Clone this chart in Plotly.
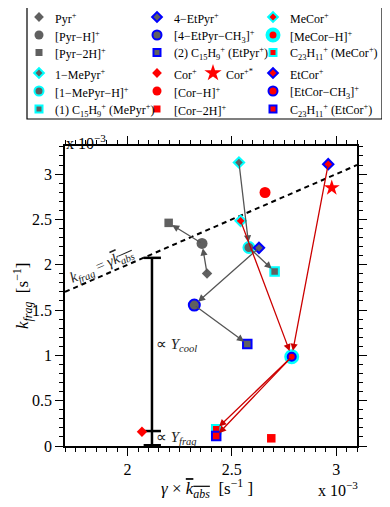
import plotly.graph_objects as go

# ---------------- data (units of 1e-3 s^-1) ----------------
pyr_names = ["Pyr<sup>+</sup>", "[Pyr−H]<sup>+</sup>", "[Pyr−2H]<sup>+</sup>"]
pyr_x = [2.381, 2.357, 2.197]
pyr_y = [1.904, 2.235, 2.462]

mepyr_names = ["1−MePyr<sup>+</sup>", "[1−MePyr−H]<sup>+</sup>", "(1) C<sub>15</sub>H<sub>9</sub><sup>+</sup> (MePyr<sup>+</sup>)"]
mepyr_x = [2.534, 2.582, 2.705]
mepyr_y = [3.128, 2.190, 1.926]

etpyr_names = ["4−EtPyr<sup>+</sup>", "[4−EtPyr−CH<sub>3</sub>]<sup>+</sup>", "(2) C<sub>15</sub>H<sub>9</sub><sup>+</sup> (EtPyr<sup>+</sup>)"]
etpyr_x = [2.630, 2.320, 2.574]
etpyr_y = [2.186, 1.555, 1.125]

cor_names = ["Cor<sup>+</sup>", "[Cor−H]<sup>+</sup>", "[Cor−2H]<sup>+</sup>"]
cor_x = [2.069, 2.659, 2.689]
cor_y = [0.158, 2.797, 0.085]

corstar_name = "Cor<sup>+*</sup>"
corstar_x = [2.979]
corstar_y = [2.848]

mecor_names = ["MeCor<sup>+</sup>", "[MeCor−H]<sup>+</sup>", "C<sub>23</sub>H<sub>11</sub><sup>+</sup> (MeCor<sup>+</sup>)"]
mecor_x = [2.542, 2.787, 2.425]
mecor_y = [2.484, 0.985, 0.184]

etcor_names = ["EtCor<sup>+</sup>", "[EtCor−CH<sub>3</sub>]<sup>+</sup>", "C<sub>23</sub>H<sub>11</sub><sup>+</sup> (EtCor<sup>+</sup>)"]
etcor_x = [2.962, 2.787, 2.425]
etcor_y = [3.109, 0.985, 0.110]

# yield bar (x position, top, middle cap)
bar_x = 2.117
bar_top = 2.076
bar_mid = 0.165

x_range = [1.7, 3.1]
y_range = [0.0, 3.31]
x_ticks = [2, 2.5, 3]
x_ticklabels = ["2", "2.5", "3"]
y_ticks = [0, 0.5, 1, 1.5, 2, 2.5, 3]
y_ticklabels = ["0", "0.5", "1", "1.5", "2", "2.5", "3"]

# ---------------- styles ----------------
GRAY = "#606060"
RED = "#ff0000"
CYAN = "#00ffff"
BLUE = "#0000ff"
DRED = "#cc0000"
AGRAY = "#555555"
FONT = "Liberation Serif"
SYMS = ["diamond", "circle", "square"]
MAIN_SIZES = [8, 11, 8.5]
LEG_SIZES = [7.5, 9, 7]

OFF = 8                     # page body margin
PW, PH = 390, 507           # page pixels
W, H = PW - OFF, PH - OFF   # figure size
L, R, T, B = 65, 357, 146, 446   # plot area in page pixels

families = [
    (pyr_names, pyr_x, pyr_y, GRAY, GRAY, 0),
    (mepyr_names, mepyr_x, mepyr_y, GRAY, CYAN, 2),
    (etpyr_names, etpyr_x, etpyr_y, GRAY, BLUE, 2),
    (cor_names, cor_x, cor_y, RED, RED, 0),
    (mecor_names, mecor_x, mecor_y, RED, CYAN, 2),
    (etcor_names, etcor_x, etcor_y, RED, BLUE, 2),
]

fig = go.Figure()

# dashed line k_frag = gamma k_abs
fig.add_trace(go.Scatter(x=x_range, y=x_range, mode="lines",
                         line=dict(color="black", width=2, dash="5px,4px"),
                         hoverinfo="skip", showlegend=False))

# yield bar
fig.add_trace(go.Scatter(x=[bar_x, bar_x], y=[0, bar_top], mode="lines",
                         line=dict(color="black", width=2.5), hoverinfo="skip", showlegend=False))
for yy in (bar_top, bar_mid, 0.008):
    fig.add_trace(go.Scatter(x=[bar_x - 0.04, bar_x + 0.043], y=[yy, yy], mode="lines",
                             line=dict(color="black", width=2.5), hoverinfo="skip", showlegend=False))

def marker_style(i, fill, edge, ew, sizes, big=False):
    size = sizes[i]
    lw = ew
    if big:
        size, lw = 11, 4
    return dict(symbol=SYMS[i], size=size, color=fill,
                line=dict(color=edge, width=lw))

# main markers
for fi in range(6):
    names, xs, ys, fill, edge, ew = families[fi]
    for i in range(3):
        big = (fi == 4 and i == 1)
        st = marker_style(i, fill, edge, ew, MAIN_SIZES, big)
        if fi == 5 and i == 1:
            st["size"] = 8
        fig.add_trace(go.Scatter(x=[xs[i]], y=[ys[i]], mode="markers", marker=st,
                                 name=names[i], showlegend=False))
fig.add_trace(go.Scatter(x=corstar_x, y=corstar_y, mode="markers",
                         marker=dict(symbol="star", size=12, color=RED, line=dict(width=0)),
                         name=corstar_name, showlegend=False))

annotations = []

def arrow(xs, ys, a, b, color, standoff=6):
    annotations.append(dict(x=xs[b], y=ys[b], ax=xs[a], ay=ys[a],
                            xref="x", yref="y", axref="x", ayref="y",
                            text="", showarrow=True, arrowhead=2, arrowsize=1.1,
                            arrowwidth=1.3, arrowcolor=color, standoff=standoff))

for xs, ys in [(pyr_x, pyr_y), (mepyr_x, mepyr_y), (etpyr_x, etpyr_y)]:
    arrow(xs, ys, 0, 1, AGRAY, standoff=5)
    arrow(xs, ys, 1, 2, AGRAY, standoff=4)
for xs, ys in [(mecor_x, mecor_y), (etcor_x, etcor_y)]:
    arrow(xs, ys, 0, 1, DRED, standoff=6)
    arrow(xs, ys, 1, 2, DRED, standoff=4)

# line label
annotations.append(dict(x=1.875, y=1.99, xref="x", yref="y", showarrow=False,
                        text="<i>k<sub>frag</sub></i> = <i>γ</i><span style='text-decoration:overline'><i>k<sub>abs</sub></i></span>",
                        textangle=-23.6, font=dict(family=FONT, size=15, color="#222")))
annotations.append(dict(x=bar_x + 0.012, y=1.11, xref="x", yref="y", showarrow=False, xanchor="left",
                        text="∝ <i>Y<sub>cool</sub></i>", font=dict(family=FONT, size=15, color="#222")))
annotations.append(dict(x=bar_x + 0.012, y=0.09, xref="x", yref="y", showarrow=False, xanchor="left",
                        text="∝ <i>Y<sub>frag</sub></i>", font=dict(family=FONT, size=15, color="#222")))

# axis titles & exponents (page-pixel coords on overlay axis)
annotations.append(dict(x=22, y=296, xref="x2", yref="y2", showarrow=False, textangle=-90,
                        text="<i>k<sub>frag</sub></i>  [s<sup>−1</sup>]",
                        font=dict(family=FONT, size=17, color="black")))
annotations.append(dict(x=207, y=488, xref="x2", yref="y2", showarrow=False,
                        text="<i>γ</i> × <span style='text-decoration:overline'><i>k<sub>abs</sub></i></span>  [s<sup>−1</sup> ]",
                        font=dict(family=FONT, size=17, color="black")))
annotations.append(dict(x=64, y=142, xref="x2", yref="y2", showarrow=False, xanchor="left",
                        text="x 10<sup>−3</sup>", font=dict(family=FONT, size=16, color="black")))
annotations.append(dict(x=316, y=489, xref="x2", yref="y2", showarrow=False, xanchor="left",
                        text="x 10<sup>−3</sup>", font=dict(family=FONT, size=16, color="black")))

# ---------------- manual legend (page-pixel layout) ----------------
leg_cols = [(39, 53), (157, 172), (273, 288)]
leg_rows = [17, 35, 52.5, 73, 91, 109]
col_members = [
    [(0, 0), (0, 1), (0, 2), (1, 0), (1, 1), (1, 2)],
    [(2, 0), (2, 1), (2, 2), (3, 0), (3, 1), (3, 2)],
    [(4, 0), (4, 1), (4, 2), (5, 0), (5, 1), (5, 2)],
]
for c, members in enumerate(col_members):
    mx, tx = leg_cols[c]
    for r, (fi, i) in enumerate(members):
        names, xs, ys, fill, edge, ew = families[fi]
        big = (fi == 4 and i == 1)
        fig.add_trace(go.Scatter(x=[mx], y=[leg_rows[r]], xaxis="x2", yaxis="y2", mode="markers",
                                 marker=marker_style(i, fill, edge, ew, LEG_SIZES, big),
                                 hoverinfo="skip", showlegend=False))
        annotations.append(dict(x=tx, y=leg_rows[r] + 1, xref="x2", yref="y2", showarrow=False,
                                xanchor="left", text=names[i],
                                font=dict(family=FONT, size=12, color="black")))
# star entry
fig.add_trace(go.Scatter(x=[213], y=[leg_rows[3]], xaxis="x2", yaxis="y2", mode="markers",
                         marker=dict(symbol="star", size=13, color=RED, line=dict(width=0)),
                         hoverinfo="skip", showlegend=False))
annotations.append(dict(x=224, y=leg_rows[3] + 1, xref="x2", yref="y2", showarrow=False,
                        xanchor="left", text=corstar_name,
                        font=dict(family=FONT, size=12, color="black")))

shapes = [dict(type="rect", xref="x2", yref="y2", x0=27, x1=382, y0=5, y1=119,
               line=dict(color="black", width=1.2), fillcolor="rgba(0,0,0,0)")]

axis_common = dict(showline=True, linecolor="black", linewidth=1.5, mirror="allticks",
                   ticks="outside", ticklen=8, tickwidth=1, tickcolor="black",
                   showgrid=False, zeroline=False, automargin=False,
                   tickfont=dict(family=FONT, size=16, color="black"))

fig.update_layout(
    width=W, height=H, margin=dict(l=0, r=0, t=0, b=0, pad=0),
    paper_bgcolor="white", plot_bgcolor="rgba(0,0,0,0)", showlegend=False,
    xaxis=dict(domain=[(L - OFF) / W, (R - OFF) / W], range=x_range,
               tickvals=x_ticks, ticktext=x_ticklabels,
               minor=dict(dtick=0.05, tick0=0, ticklen=4, ticks="outside", tickcolor="black"),
               **axis_common),
    yaxis=dict(domain=[1 - (B - OFF) / H, 1 - (T - OFF) / H], range=y_range,
               tickvals=y_ticks, ticktext=y_ticklabels,
               minor=dict(dtick=0.1, tick0=0, ticklen=4, ticks="outside", tickcolor="black"),
               **axis_common),
    xaxis2=dict(domain=[0, 1], range=[OFF, PW], visible=False, fixedrange=True),
    yaxis2=dict(domain=[0, 1], range=[PH, OFF], visible=False, fixedrange=True),
    annotations=annotations, shapes=shapes,
    font=dict(family=FONT),
)

fig.write_html("out.html")
